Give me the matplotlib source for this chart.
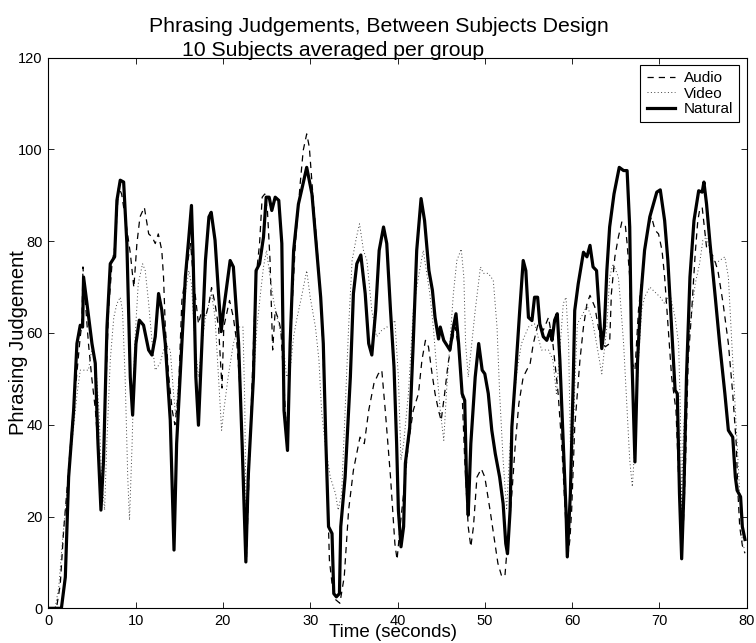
import matplotlib
matplotlib.use("Agg")
import matplotlib.pyplot as plt

plt.rcParams['font.family'] = ['Liberation Sans', 'DejaVu Sans']

# ---------------- data ----------------
natural_t = [0, 1.5, 1.95, 2.33, 2.9, 3.28, 3.66, 3.93, 4.04, 4.43, 5.0, 5.38, 5.69, 6.03, 6.33, 6.72, 7.1, 7.6,
             7.86, 8.24, 8.63, 9.0, 9.39, 9.66, 10.04, 10.42, 10.91, 11.49, 11.87, 12.25, 12.63, 13.0, 13.4, 13.97,
             14.4, 14.7, 15.1, 15.7, 16.1, 16.4, 16.6, 16.9, 17.2, 17.6, 18.0, 18.4, 18.66, 19.1, 19.5, 19.8, 20.07,
             20.83, 21.2, 21.8, 22.2, 22.63, 22.9, 23.5, 23.8, 24.2, 24.65, 24.96, 25.3, 25.6, 25.99, 26.4, 26.75,
             27.0, 27.4, 27.7, 28.1, 28.65, 29.0, 29.6, 30.2, 30.75, 31.2, 31.5, 31.8, 32.1, 32.5, 32.7, 33.0, 33.35,
             33.5, 34.0, 34.6, 34.95, 35.34, 35.8, 36.3, 36.7, 37.06, 37.5, 37.9, 38.4, 38.77, 39.2, 39.6, 39.9, 40.1,
             40.4, 40.7, 40.9, 41.4, 41.8, 42.2, 42.7, 43.1, 43.6, 44.0, 44.3, 44.7, 44.9, 45.3, 46.0, 46.4, 46.7,
             47.0, 47.4, 47.7, 47.9, 48.1, 48.4, 48.9, 49.3, 49.7, 50.0, 50.4, 50.8, 51.2, 51.7, 52.1, 52.4, 52.6,
             52.9, 53.1, 53.5, 54.0, 54.4, 54.7, 55.0, 55.4, 55.7, 56.05, 56.3, 56.7, 57.1, 57.5, 57.7, 58.0, 58.3,
             58.6, 58.99, 59.3, 59.45, 59.8, 60.14, 60.3, 60.7, 61.3, 61.7, 62.05, 62.4, 62.8, 63.1, 63.4, 63.7,
             63.98, 64.3, 64.8, 65.4, 65.9, 66.3, 66.6, 66.8, 67.2, 67.5, 67.9, 68.3, 68.9, 69.7, 70.1, 70.6, 70.97,
             71.4, 71.8, 72.05, 72.3, 72.55, 72.8, 73.1, 73.5, 73.96, 74.5, 74.9, 75.1, 75.4, 75.8, 76.4, 76.9, 77.5,
             77.9, 78.4, 78.7, 78.9, 79.3, 79.5, 79.8]
natural_v = [0, 0, 6.8, 28.6, 43.1, 57.7, 61.7, 61.3, 72.2, 66.4, 57.7, 53.4, 35.9, 21.4, 32.3, 61.3, 75.1, 76.6,
             88.9, 93.3, 92.9, 79.5, 50.4, 42.1, 57.7, 62.8, 61.7, 56.3, 55.2, 59.2, 68.6, 65.0, 57.7, 41.0,
             12.7, 35.9, 50.4, 72.2, 80.9, 87.8, 75.8, 50.4, 39.9, 57.7, 75.8, 85.3, 86.3, 80.2, 68.6, 60.3, 64.9,
             75.8, 74.4, 57.7, 35.9, 10.1, 28.6, 50.4, 73.6, 75.1, 80.9, 89.6, 89.6, 86.7, 89.6, 88.9, 79.5,
             43.1, 34.4, 57.7, 78.0, 88.1, 91.0, 96.1, 90.3, 78.0, 67.8, 57.7, 35.9, 17.8, 16.3, 3.2, 2.5, 3.2,
             17.8, 28.6, 50.4, 68.6, 75.1, 77.0, 68.6, 57.7, 55.2, 64.9, 78.0, 83.1, 79.5, 64.9, 52.6, 35.9, 21.4,
             13.4, 17.8, 31.6, 39.5, 57.7, 78.0, 89.3, 84.5, 73.6, 69.3, 63.4, 58.7, 61.3, 58.4, 56.3, 61.3, 64.2,
             57.7, 46.8, 45.3, 28.6, 20.3, 35.9, 50.4, 57.7, 51.9, 51.1, 46.8, 38.8, 33.7, 28.6, 22.8, 14.1, 11.9,
             21.4, 39.5, 50.4, 64.9, 75.8, 73.6, 63.4, 62.7, 67.8, 67.8, 62.0, 59.2, 58.4, 60.6, 58.4, 62.8, 64.2,
             54.1, 35.9, 21.4, 11.2, 25.0, 50.4, 64.9, 70.7, 77.6, 76.6, 79.1, 74.4, 73.6, 64.9, 56.6, 61.3,
             73.6, 83.1, 90.3, 96.1, 95.4, 95.4, 83.1, 57.7, 31.9, 54.1, 68.6, 78.0, 85.3, 90.7, 91.2, 84.5, 75.8,
             61.3, 47.5, 46.8, 25.0, 10.8, 25.0, 50.4, 72.2, 84.5, 91.0, 90.7, 92.9, 88.1, 79.5, 67.8, 57.7, 46.8,
             38.8, 37.3, 28.6, 25.7, 24.3, 17.8, 15.0]

audio_t = [0, 0.9, 1.0, 1.37, 1.75, 2.1, 2.7, 3.3, 3.66, 3.85, 3.97, 4.2, 4.6, 4.97, 5.4, 5.8, 6.07, 6.5, 6.9, 7.3,
           7.67, 8.05, 8.4, 8.8, 9.4, 9.8, 10.15, 10.5, 11.0, 11.5, 11.9, 12.25, 12.6, 13.0, 13.2, 13.4, 13.8, 14.2,
           14.5, 14.9, 15.3, 15.7, 16.3, 16.6, 17.2, 17.6, 18.0, 18.4, 18.7, 19.1, 19.5, 19.9, 20.1, 20.76, 21.2,
           21.6, 22.0, 22.4, 22.7, 23.1, 23.5, 23.8, 24.2, 24.5, 24.8, 25.1, 25.4, 25.7, 25.99, 26.4, 26.64, 26.9,
           27.25, 27.5, 27.9, 28.3, 28.85, 29.2, 29.6, 29.9, 30.3, 30.75, 31.3, 31.7, 31.99, 32.2, 32.5, 32.9, 33.4,
           33.9, 34.4, 34.95, 35.7, 36.2, 36.7, 37.3, 37.8, 38.2, 38.6, 39.2, 39.7, 39.95, 40.3, 40.7, 41.25, 41.8,
           42.4, 42.8, 43.2, 43.55, 43.9, 44.3, 44.7, 45.0, 45.4, 45.8, 46.2, 46.6, 47.05, 47.4, 47.7, 48.1, 48.4,
           48.7, 49.1, 49.6, 50.0, 50.6, 51.1, 51.5, 51.9, 52.3, 52.6, 53.1, 53.5, 53.9, 54.4, 54.8, 55.2, 55.56,
           56.1, 56.7, 57.3, 57.8, 58.4, 58.8, 59.2, 59.5, 59.75, 59.95, 60.3, 60.9, 61.3, 61.7, 62.05, 62.6, 63.2,
           63.8, 64.3, 64.5, 64.9, 65.3, 65.7, 66.1, 66.3, 66.6, 66.9, 67.2, 67.6, 68.2, 68.7, 69.1, 69.5, 69.9,
           70.3, 70.6, 71.0, 71.4, 71.9, 72.2, 72.5, 72.7, 73.0, 73.3, 73.7, 74.1, 74.4, 74.6, 74.9, 75.4, 76.2,
           76.7, 77.3, 77.9, 78.4, 78.8, 79.0, 79.2, 79.5, 79.8]
audio_v = [0, 0, 0.8, 5.2, 16.8, 24.9, 39.5, 51.9, 59.2, 62.0, 74.4, 67.8, 57.7, 50.4, 43.1, 32.3, 21.4, 43.1, 65.0, 75.1,
           79.5, 91.8, 90.3, 85.3, 77.3, 69.9, 79.5, 85.3, 87.4, 81.6, 80.9, 79.5, 81.6, 78.0, 72.2, 61.3, 50.4, 43.1,
           40.0, 46.8, 67.1, 72.2, 79.5, 72.2, 62.0, 65.0, 63.4, 66.4, 69.9, 66.4, 61.3, 48.0, 61.3, 67.1, 63.4,
           57.7, 46.8, 28.6, 11.2, 35.9, 57.7, 72.2, 79.5, 89.6, 90.3, 86.7, 75.8, 56.3, 64.9, 62.8, 60.6, 51.9,
           39.5, 43.1, 64.9, 79.5, 92.5, 99.8, 103.4, 100.5, 90.3, 79.5, 64.9, 43.1, 25.0, 10.5, 5.4, 1.9, 1.1,
           6.9, 21.4, 30.1, 37.3, 35.9, 43.1, 49.0, 51.1, 51.9, 43.1, 28.6, 14.1, 10.6, 17.8, 25.0, 35.9, 43.1,
           46.8, 54.1, 58.4, 57.0, 51.9, 46.8, 43.1, 40.9, 46.8, 53.4, 57.7, 61.3, 56.3, 46.8, 32.3, 17.8, 13.4,
           17.8, 28.6, 30.4, 28.6, 21.4, 14.9, 9.8, 7.2, 6.9, 14.1, 25.0, 35.9, 44.6, 50.4, 51.9, 53.4, 57.7,
           62.0, 60.6, 63.4, 57.7, 46.8, 35.9, 21.4, 11.2, 15.0, 21.4, 39.5, 54.1, 61.3, 66.4, 68.2, 65.7, 59.2,
           57.0, 57.7, 68.6, 76.6, 80.9, 84.2, 83.4, 79.5, 72.2, 53.4, 51.9, 64.9, 75.8, 83.1, 85.3, 82.4, 81.6,
           78.0, 72.2, 61.3, 50.4, 43.1, 28.6, 14.1, 15.6, 32.3, 54.1, 64.9, 77.3, 84.5, 86.7, 87.4, 78.7, 76.6,
           73.6, 66.4, 57.7, 46.8, 35.9, 25.0, 17.8, 13.7, 12.0]

video_t = [0, 0.8, 1.2, 1.6, 1.95, 2.5, 2.9, 3.3, 3.66, 4.16, 4.6, 4.97, 5.4, 5.8, 6.1, 6.45, 6.7, 7.1, 7.5, 7.86,
           8.24, 8.5, 8.8, 9.1, 9.3, 9.6, 9.9, 10.3, 10.8, 11.1, 11.5, 11.9, 12.25, 12.8, 13.4, 13.97, 14.35, 14.6,
           15.1, 15.7, 16.1, 16.4, 16.8, 17.2, 17.6, 18.0, 18.4, 18.7, 19.1, 19.5, 19.85, 20.1, 20.6, 21.2, 21.8,
           22.3, 22.5, 22.7, 22.9, 23.3, 23.9, 24.3, 24.65, 25.0, 25.3, 25.8, 26.2, 26.5, 26.9, 27.3, 27.7, 28.1,
           28.5, 29.0, 29.6, 30.0, 30.6, 31.0, 31.3, 31.7, 32.3, 32.9, 33.2, 33.6, 34.0, 34.4, 34.8, 35.3, 35.65,
           36.1, 36.5, 37.06, 37.6, 38.2, 38.77, 39.3, 39.7, 40.1, 40.4, 40.7, 41.25, 41.8, 42.4, 42.95, 43.3, 43.7,
           44.1, 44.5, 44.9, 45.3, 45.6, 46.0, 46.4, 46.8, 47.3, 47.6, 47.8, 48.1, 48.5, 48.9, 49.5, 49.85, 50.4,
           50.97, 51.4, 51.7, 52.1, 52.5, 52.9, 53.3, 53.7, 54.2, 55.0, 55.7, 56.5, 57.3, 57.8, 58.2, 58.6, 58.99,
           59.3, 59.6, 59.8, 60.0, 60.3, 60.6, 61.2, 61.7, 62.3, 62.8, 63.4, 63.98, 64.3, 64.7, 65.3, 65.5, 65.9,
           66.3, 66.6, 66.9, 67.2, 67.6, 67.97, 68.3, 68.9, 69.5, 70.1, 70.6, 71.2, 71.8, 72.2, 72.4, 72.55, 72.7,
           73.1, 73.5, 74.1, 74.6, 74.98, 75.4, 75.8, 76.4, 76.9, 77.5, 77.9, 78.3, 78.7, 79.1, 79.5, 79.8]
video_v = [0, 0.3, 4.6, 14.1, 21.4, 32.3, 39.5, 46.8, 51.9, 51.9, 51.9, 56.3, 54.1, 43.1, 28.6, 21.4, 35.9, 54.1, 63.4,
           66.4, 67.8, 64.9, 50.4, 28.6, 19.2, 35.9, 57.7, 70.7, 75.1, 73.6, 66.4, 57.7, 51.9, 53.4, 57.7, 56.3,
           46.8, 41.7, 54.1, 68.6, 73.6, 70.7, 57.7, 50.4, 57.7, 63.4, 66.4, 68.6, 63.4, 50.4, 38.8, 43.1, 50.4,
           57.7, 61.3, 61.3, 45.0, 12.0, 25.0, 43.1, 61.3, 68.6, 74.4, 78.0, 73.6, 67.1, 63.4, 61.3, 57.7, 50.4,
           51.9, 59.2, 63.4, 67.8, 73.6, 67.8, 61.3, 54.1, 43.1, 35.9, 28.6, 25.0, 21.4, 25.0, 43.1, 61.3, 75.8,
           80.9, 83.8, 78.0, 75.8, 64.9, 59.2, 60.6, 61.3, 61.3, 62.8, 50.4, 32.3, 35.9, 46.8, 64.9, 72.2, 78.0,
           73.6, 68.6, 61.3, 51.9, 43.1, 36.6, 46.8, 57.7, 68.6, 75.8, 78.3, 72.2, 57.7, 50.4, 57.7, 64.9, 74.4,
           73.0, 73.0, 71.5, 61.3, 46.8, 32.3, 21.4, 35.9, 44.6, 51.9, 57.7, 61.3, 62.0, 56.3, 56.3, 54.1, 46.8,
           56.3, 66.4, 67.8, 57.7, 35.9, 28.0, 48.0, 62.0, 64.0, 66.0, 63.0, 57.7, 51.1, 61.3, 72.2, 75.1, 72.2,
           67.8, 57.7, 43.1, 32.3, 26.5, 35.9, 54.1, 64.9, 67.8, 70.0, 68.9, 67.8, 66.4, 68.6, 63.4, 57.7, 43.1,
           21.4, 35.9, 50.4, 61.3, 70.7, 75.1, 80.2, 80.9, 78.0, 75.1, 75.8, 76.6, 72.2, 57.7, 43.1, 28.6, 14.1,
           12.7]

title_line1 = "Phrasing Judgements, Between Subjects Design"
title_line2 = "10 Subjects averaged per group"
x_label = "Time (seconds)"
y_label = "Phrasing Judgement"
x_ticks = [0, 10, 20, 30, 40, 50, 60, 70, 80]
y_ticks = [0, 20, 40, 60, 80, 100, 120]

# ---------------- figure ----------------
W, H = 756, 643
fig = plt.figure(figsize=(W / 100, H / 100), dpi=100)
ax = fig.add_axes([48.3 / W, (H - 608.3) / H, 698.4 / W, 550.6 / H])

ax.plot(audio_t, audio_v, color='black', lw=0.9, linestyle=(0, (5, 4)), label='Audio')
ax.plot(video_t, video_v, color='0.25', lw=0.7, linestyle=(0, (1, 2.5)), label='Video')
ax.plot(natural_t, natural_v, color='black', lw=2.3, solid_joinstyle='round', label='Natural')

ax.set_xlim(0, 80)
ax.set_ylim(0, 120)
ax.set_xticks(x_ticks)
ax.set_yticks(y_ticks)
ax.tick_params(direction='in', length=4.3, width=0.6, labelsize=10.5, top=True, right=True, pad=4)
for s in ax.spines.values():
    s.set_linewidth(0.8)

ax.set_xlabel(x_label, fontsize=13.5)
ax.xaxis.set_label_coords(0.494, -0.028)
ax.set_ylabel(y_label, fontsize=14.5)
ax.yaxis.set_label_coords(-0.029, 0.483)

fig.text(378.5 / W, 1 - 31.7 / H, title_line1, ha='center', va='baseline', fontsize=15.3)
fig.text(182 / W, 1 - 56 / H, title_line2, ha='left', va='baseline', fontsize=15.3)

leg = ax.legend(loc='upper right', bbox_to_anchor=(739 / W, 1 - 65 / H), bbox_transform=fig.transFigure,
                fontsize=11, frameon=True, fancybox=False, framealpha=1,
                edgecolor='black', borderaxespad=0, handlelength=1.85, borderpad=0.4,
                labelspacing=0.1, handletextpad=0.57)
leg.get_frame().set_linewidth(0.8)

fig.savefig("out.png", dpi=100)
